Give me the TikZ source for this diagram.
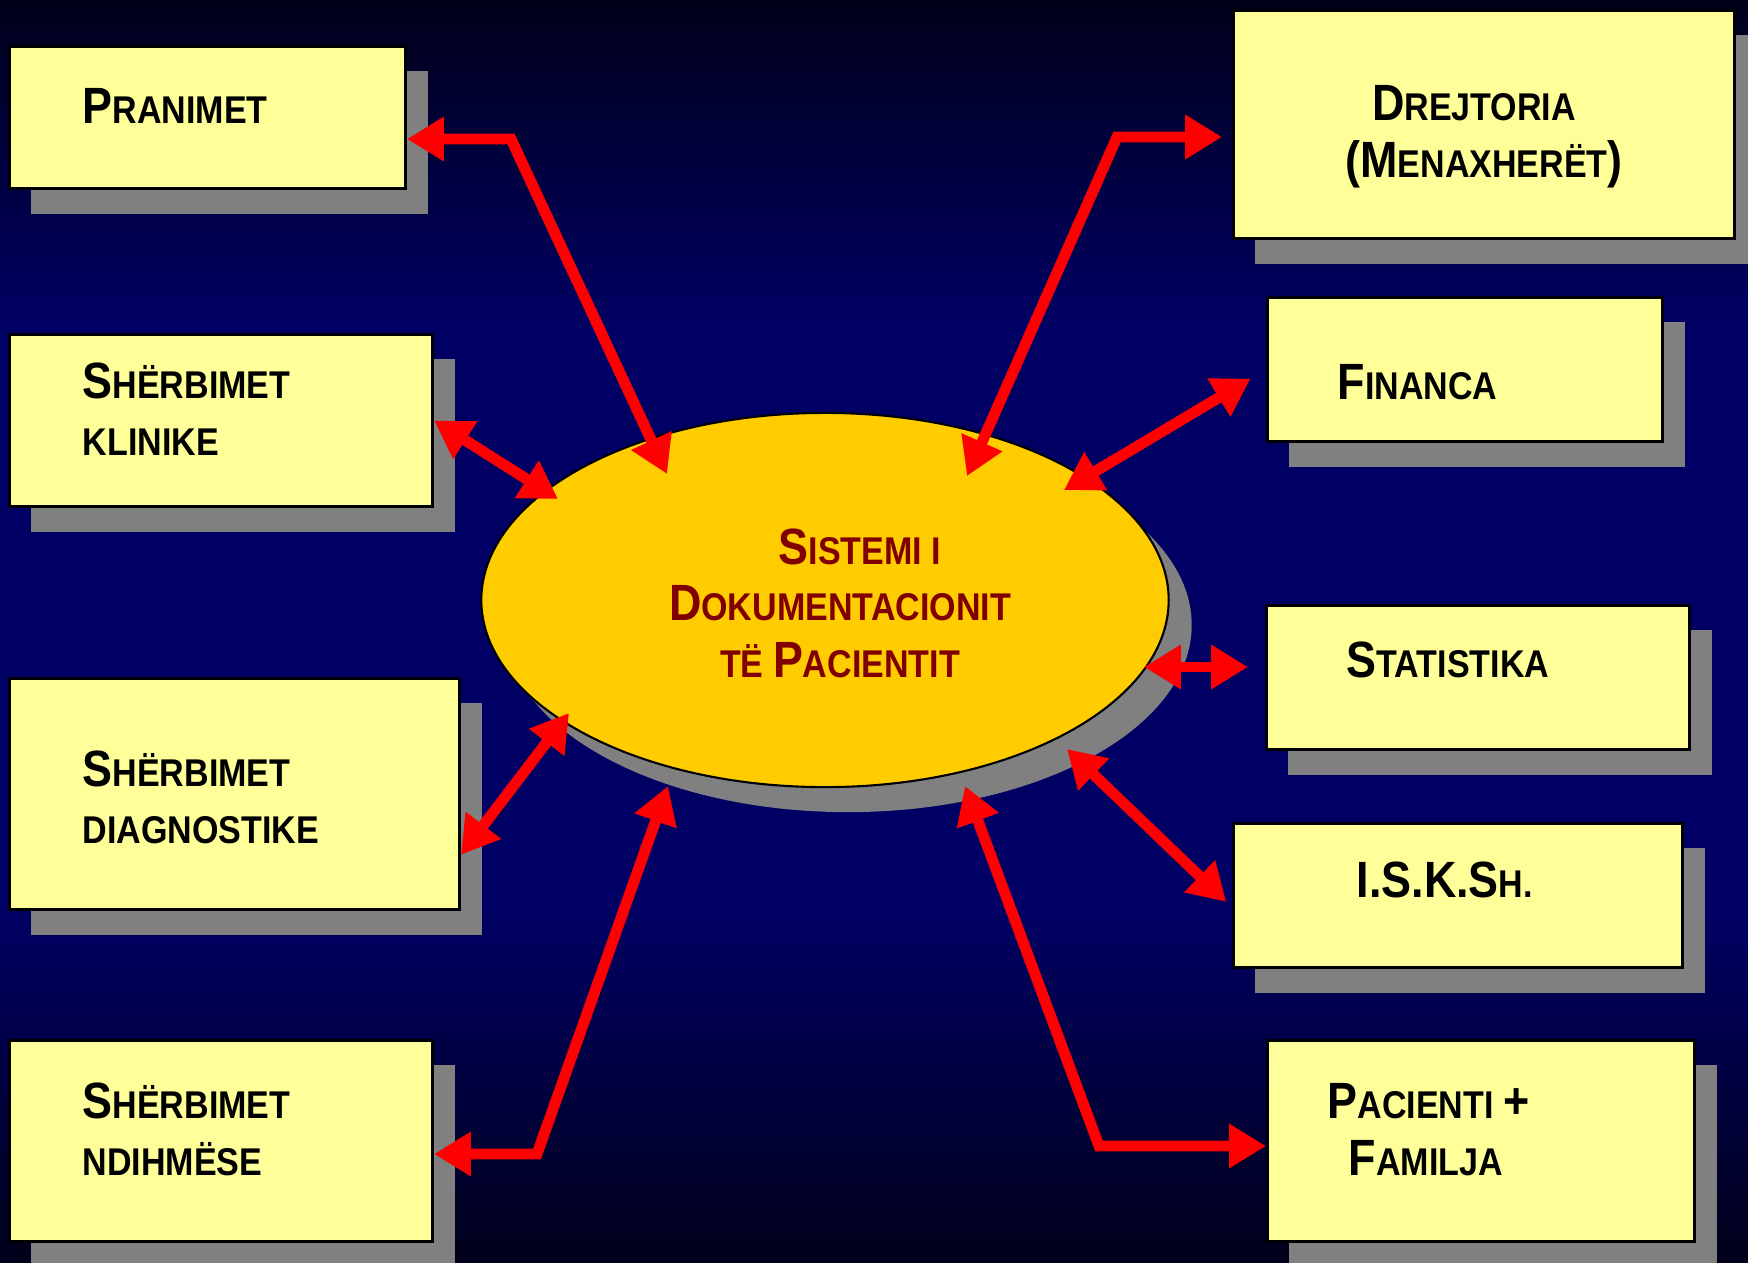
\documentclass[tikz,border=0pt]{standalone}
\usepackage{fontspec}
\usetikzlibrary{arrows.meta,shadows,shapes.geometric}
\newfontfamily\lblfont[FakeStretch=0.88]{Liberation Sans}
\definecolor{jaune}{HTML}{FFFF99}
\definecolor{ombre}{HTML}{808080}
\definecolor{orsys}{HTML}{FFCC00}
\definecolor{bordeaux}{HTML}{800000}
\definecolor{navy}{HTML}{000064}
\definecolor{nuit}{HTML}{00001A}
\pgfdeclareverticalshading{fond}{100bp}{color(0bp)=(nuit); color(25bp)=(nuit); color(39bp)=(navy); color(62bp)=(navy); color(75bp)=(nuit); color(100bp)=(nuit)}
\newcommand\Bg[1]{{\fontsize{14.5}{16}\selectfont #1}}

\tikzset{
  box/.style={draw=black, line width=0.8pt, fill=jaune, anchor=north west, inner sep=0pt,
    drop shadow={shadow xshift=0.22cm, shadow yshift=-0.25cm, fill=ombre, opacity=1}},
  txt/.style={anchor=base west, inner sep=0pt, align=left, text=black,
    font=\lblfont\bfseries\fontsize{11}{16}\selectfont},
  link/.style={red, line width=3.1pt, {Triangle[length=10.5pt,width=12pt]}-{Triangle[length=10.5pt,width=12pt]}}
}

\begin{document}
\begin{tikzpicture}[x=0.01cm, y=-0.01cm]
% background
\shade[shading=fond] (0,0) rectangle (1748,1262);
\useasboundingbox (0,0) rectangle (1748,1262);
% boxes left (text nodes sit on the baseline of their last line)
\node[box, minimum width=3.96cm, minimum height=1.42cm] (pran) at (8,45) {};
\node[txt] (pranT) at (82,123) {\Bg{P}RANIMET};
\node[box, minimum width=4.23cm, minimum height=1.72cm] (klin) at (8,333) {};
\node[txt] (klinT) at (82,455) {\Bg{S}HËRBIMET\\KLINIKE};
\node[box, minimum width=4.50cm, minimum height=2.31cm] (diag) at (8,677) {};
\node[txt] (diagT) at (82,843) {\Bg{S}HËRBIMET\\DIAGNOSTIKE};
\node[box, minimum width=4.23cm, minimum height=2.01cm] (ndih) at (8,1039) {};
\node[txt] (ndihT) at (82,1175) {\Bg{S}HËRBIMET\\NDIHMËSE};
% boxes right
\node[box, minimum width=5.01cm, minimum height=2.28cm] (drej) at (1232,9) {};
\node[txt, align=center, anchor=base] (drejT) at (1484,177) {\Bg{D}REJTORIA\hspace*{0.2cm}\\\Bg{(M}ENAXHERËT\Bg{)}};
\node[box, minimum width=3.95cm, minimum height=1.44cm] (fin) at (1266,296) {};
\node[txt] (finT) at (1337,399) {\Bg{F}INANCA};
\node[box, minimum width=4.23cm, minimum height=1.44cm] (stat) at (1265,604) {};
\node[txt] (statT) at (1346,677) {\Bg{S}TATISTIKA};
\node[box, minimum width=4.49cm, minimum height=1.44cm] (isk) at (1232,822) {};
\node[txt] (iskT) at (1356,897) {\Bg{I.S.K.S}H.};
\node[box, minimum width=4.27cm, minimum height=2.01cm] (pac) at (1266,1039) {};
\node[txt] (pacT) at (1327,1175) {\Bg{P}ACIENTI \Bg{+}\\\hspace*{0.21cm}\Bg{F}AMILJA};
% ellipse
\node[ellipse, draw=black, line width=0.6pt, fill=orsys, minimum width=6.87cm, minimum height=3.74cm, inner sep=0pt,
  drop shadow={shadow xshift=0.23cm, shadow yshift=-0.25cm, fill=ombre, opacity=1}] (sys) at (825,600) {};
\node[txt, align=center, anchor=base, text=bordeaux] (sysT) at (840,677) {\hspace*{0.4cm}\Bg{S}ISTEMI I\\\Bg{D}OKUMENTACIONIT\\TË \Bg{P}ACIENTIT};
% arrows
\coordinate (p1) at (511,139);
\coordinate (p2) at (667,474);
\draw[link] (pran.east |- p1) -- (p1) -- (p2);
\coordinate (k1) at (558,499);
\draw[link] (klin.east) -- (k1);
\coordinate (d1) at (569,713);
\draw[link] (diag.-15) -- (d1);
\coordinate (n1) at (537,1154);
\coordinate (n2) at (668,786);
\draw[link] (ndih.east |- n1) -- (n1) -- (n2);
\coordinate (r1) at (1117,137);
\coordinate (r0) at (967,476);
\draw[link, shorten <=0.1cm] (drej.west |- r1) -- (r1) -- (r0);
\coordinate (f1) at (1064,490);
\draw[link, shorten <=0.18cm] (fin.west) -- (f1);
\coordinate (s1) at (1144,667);
\draw[link, shorten <=0.17cm] (stat.west |- s1) -- (s1);
\coordinate (i1) at (1067,749);
\draw[link, shorten <=0.08cm] (isk.183) -- (i1);
\coordinate (c9) at (1099,1146);
\coordinate (c0) at (965,786);
\draw[link] (pac.west |- c9) -- (c9) -- (c0);
\end{tikzpicture}
\end{document}
